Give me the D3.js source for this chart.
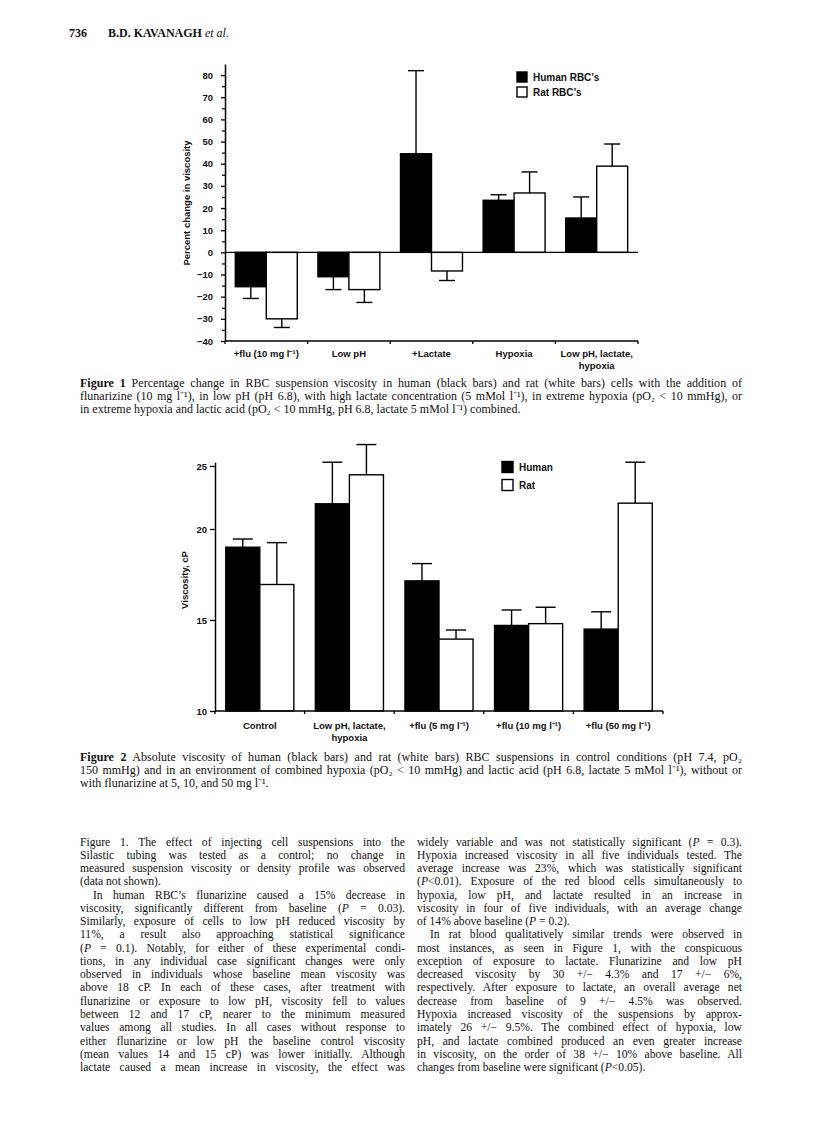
<!DOCTYPE html>
<html><head><meta charset="utf-8">
<script src="https://cdn.jsdelivr.net/npm/d3@7"></script>
<style>body{margin:0;background:#fff}</style>
</head><body>
<svg id="page" width="816" height="1137"></svg>
<script>
// ---------- Figure 1 data ----------
const fig1Categories = ["+flu (10 mg l\u207B\u00B9)", "Low pH", "+Lactate", "Hypoxia", "Low pH, lactate,\nhypoxia"];
const fig1Human    = [-15.5, -11.0, 44.5, 23.5, 15.5];
const fig1HumanErr = [-20.8, -16.8, 82.0, 26.0, 25.0];
const fig1Rat      = [-30.0, -16.8, -8.4, 26.8, 38.9];
const fig1RatErr   = [-33.9, -22.6, -12.7, 36.3, 48.9];
const fig1Ticks    = [-40, -30, -20, -10, 0, 10, 20, 30, 40, 50, 60, 70, 80];
const fig1Minor    = [-35, -25, -15, -5, 5, 15, 25, 35, 45, 55, 65, 75];
const fig1Legend   = ["Human RBC\u2019s", "Rat RBC\u2019s"];

// ---------- Figure 2 data ----------
const fig2Categories = ["Control", "Low pH, lactate,\nhypoxia", "+flu (5 mg l\u207B\u00B9)", "+flu (10 mg l\u207B\u00B9)", "+flu (50 mg l\u207B\u00B9)"];
const fig2Human    = [19.0, 22.0, 17.15, 14.7, 14.5];
const fig2HumanErr = [19.45, 25.3, 18.1, 15.55, 15.45];
const fig2Rat      = [16.95, 24.3, 13.95, 14.8, 22.05];
const fig2RatErr   = [19.25, 26.7, 14.45, 15.7, 25.3];
const fig2Ticks    = [10, 15, 20, 25];
const fig2Legend   = ["Human", "Rat"];

// ---------- Text ----------
const headerPage = "736";
const headerAuthor = "B.D. KAVANAGH ";
const caption1 = [
  "**Figure 1**  Percentage change in RBC suspension viscosity in human (black bars) and rat (white bars) cells with the addition of",
  "flunarizine (10 mg l\u207B\u00B9), in low pH (pH 6.8), with high lactate concentration (5 mMol l\u207B\u00B9), in extreme hypoxia (pO\u2082 < 10 mmHg), or",
  "in extreme hypoxia and lactic acid (pO\u2082 < 10 mmHg, pH 6.8, lactate 5 mMol l\u207B\u00B9) combined."
];
const caption2 = [
  "**Figure 2**  Absolute viscosity of human (black bars) and rat (white bars) RBC suspensions in control conditions (pH 7.4, pO\u2082",
  "150 mmHg) and in an environment of combined hypoxia (pO\u2082 < 10 mmHg) and lactic acid (pH 6.8, lactate 5 mMol l\u207B\u00B9), without or",
  "with flunarizine at 5, 10, and 50 mg l\u207B\u00B9."
];
const bodyLeft = [
  ["Figure 1. The effect of injecting cell suspensions into the", 1, 0],
  ["Silastic tubing was tested as a control; no change in", 1, 0],
  ["measured suspension viscosity or density profile was observed", 1, 0],
  ["(data not shown).", 0, 0],
  ["In human RBC\u2019s flunarizine caused a 15% decrease in", 1, 1],
  ["viscosity, significantly different from baseline (*P* = 0.03).", 1, 0],
  ["Similarly, exposure of cells to low pH reduced viscosity by", 1, 0],
  ["11%, a result also approaching statistical significance", 1, 0],
  ["(*P* = 0.1). Notably, for either of these experimental condi-", 1, 0],
  ["tions, in any individual case significant changes were only", 1, 0],
  ["observed in individuals whose baseline mean viscosity was", 1, 0],
  ["above 18 cP. In each of these cases, after treatment with", 1, 0],
  ["flunarizine or exposure to low pH, viscosity fell to values", 1, 0],
  ["between 12 and 17 cP, nearer to the minimum measured", 1, 0],
  ["values among all studies. In all cases without response to", 1, 0],
  ["either flunarizine or low pH the baseline control viscosity", 1, 0],
  ["(mean values 14 and 15 cP) was lower initially. Although", 1, 0],
  ["lactate caused a mean increase in viscosity, the effect was", 1, 0]
];
const bodyRight = [
  ["widely variable and was not statistically significant (*P* = 0.3).", 1, 0],
  ["Hypoxia increased viscosity in all five individuals tested. The", 1, 0],
  ["average increase was 23%, which was statistically significant", 1, 0],
  ["(*P*<0.01). Exposure of the red blood cells simultaneously to", 1, 0],
  ["hypoxia, low pH, and lactate resulted in an increase in", 1, 0],
  ["viscosity in four of five individuals, with an average change", 1, 0],
  ["of 14% above baseline (*P* = 0.2).", 0, 0],
  ["In rat blood qualitatively similar trends were observed in", 1, 1],
  ["most instances, as seen in Figure 1, with the conspicuous", 1, 0],
  ["exception of exposure to lactate. Flunarizine and low pH", 1, 0],
  ["decreased viscosity by 30 +/\u2212 4.3% and 17 +/\u2212 6%,", 1, 0],
  ["respectively. After exposure to lactate, an overall average net", 1, 0],
  ["decrease from baseline of 9 +/\u2212 4.5% was observed.", 1, 0],
  ["Hypoxia increased viscosity of the suspensions by approx-", 1, 0],
  ["imately 26 +/\u2212 9.5%. The combined effect of hypoxia, low", 1, 0],
  ["pH, and lactate combined produced an even greater increase", 1, 0],
  ["in viscosity, on the order of 38 +/\u2212 10% above baseline. All", 1, 0],
  ["changes from baseline were significant (*P*<0.05).", 0, 0]
];

const SANS = "'Liberation Sans', Arial, Helvetica, sans-serif";
const SERIF = "'Liberation Serif', 'Times New Roman', serif";

const svg = d3.select("#page");
svg.append("rect").attr("width", 816).attr("height", 1137).attr("fill", "#fff");

function rich(textSel, str) {
  const parts = str.split(/(\*\*[^*]+\*\*|\*[^*]+\*)/).filter(s => s.length);
  parts.forEach(p => {
    const t = textSel.append("tspan");
    if (p.startsWith("**")) t.attr("font-weight", "bold").text(p.slice(2, -2));
    else if (p.startsWith("*")) t.attr("font-style", "italic").text(p.slice(1, -1));
    else t.text(p);
  });
}

function textBlock(lines, x0, width, y0, lh, size, indent) {
  const g = svg.append("g").attr("font-family", SERIF).attr("font-size", size).attr("fill", "#111");
  lines.forEach((ln, i) => {
    const [str, just, ind] = Array.isArray(ln) ? ln : [ln, i < lines.length - 1 ? 1 : 0, 0];
    const x = x0 + (ind ? indent : 0);
    const t = g.append("text").attr("x", x).attr("y", y0 + i * lh);
    rich(t, str);
    if (just) {
      const target = width - (ind ? indent : 0);
      const natural = t.node().getComputedTextLength();
      const spaces = (str.replace(/\*/g, "").match(/ /g) || []).length;
      if (spaces > 0) {
        const ws = (target - natural) / spaces;
        t.attr("word-spacing", ws);
        const after = t.node().getComputedTextLength();
        if (Math.abs(after - target) > 1) t.attr("textLength", target).attr("lengthAdjust", "spacing");
      }
    }
  });
}

// header
const hdr = svg.append("g").attr("font-family", SERIF).attr("font-size", 12).attr("fill", "#111");
hdr.append("text").attr("x", 69).attr("y", 37).attr("font-weight", "bold").text(headerPage);
const ht = hdr.append("text").attr("x", 108).attr("y", 37);
ht.append("tspan").attr("font-weight", "bold").text(headerAuthor);
ht.append("tspan").attr("font-style", "italic").text("et al.");

function drawChart(o) {
  const g = svg.append("g").attr("font-family", SANS).attr("font-weight", "bold").attr("fill", "#111");
  const x = d3.scaleBand().domain(o.cats).range(o.xRange).padding(0);
  const y = o.y;
  const bw = x.bandwidth() * o.barFrac;
  const base = y(o.baseVal);
  const series = [
    {vals: o.human, errs: o.humanErr, fill: "#000", off: -bw},
    {vals: o.rat, errs: o.ratErr, fill: "#fff", off: 0}
  ];
  series.forEach(s => {
    o.cats.forEach((c, i) => {
      const cx = x(c) + x.bandwidth() / 2 + s.off + bw / 2;
      g.append("line").attr("x1", cx).attr("x2", cx).attr("y1", y(s.vals[i])).attr("y2", y(s.errs[i]))
        .attr("stroke", "#000").attr("stroke-width", 1.4);
      g.append("line").attr("x1", cx - o.capW / 2).attr("x2", cx + o.capW / 2).attr("y1", y(s.errs[i])).attr("y2", y(s.errs[i]))
        .attr("stroke", "#000").attr("stroke-width", 1.4);
    });
  });
  series.forEach(s => {
    o.cats.forEach((c, i) => {
      const bx = x(c) + x.bandwidth() / 2 + s.off;
      const yv = y(s.vals[i]);
      g.append("rect").attr("x", bx).attr("width", bw)
        .attr("y", Math.min(yv, base)).attr("height", Math.abs(base - yv))
        .attr("fill", s.fill).attr("stroke", "#000").attr("stroke-width", 1.4);
    });
  });
  if (o.zeroLine) {
    g.append("line").attr("x1", o.xRange[0]).attr("x2", o.xRange[1]).attr("y1", y(0)).attr("y2", y(0))
      .attr("stroke", "#000").attr("stroke-width", 1.4);
  }
  const yb = y(o.yDomainMin);
  g.append("line").attr("x1", o.xRange[0]).attr("x2", o.xRange[1]).attr("y1", yb).attr("y2", yb)
    .attr("stroke", "#000").attr("stroke-width", 1.5);
  const bounds = o.cats.map(c => x(c)).concat([o.xRange[1]]);
  bounds.forEach(bx => g.append("line").attr("x1", bx).attr("x2", bx).attr("y1", yb).attr("y2", yb + 3)
    .attr("stroke", "#000").attr("stroke-width", 1.3));
  o.cats.forEach(c => {
    const t = g.append("text").attr("x", x(c) + x.bandwidth() / 2).attr("y", o.labelY)
      .attr("text-anchor", "middle").attr("font-size", o.labelSize);
    c.split("\n").forEach((ln, k) => t.append("tspan").attr("x", x(c) + x.bandwidth() / 2).attr("dy", k ? 12 : 0).text(ln));
  });
  const ax = g.append("g").attr("transform", `translate(${o.xRange[0]},0)`)
    .call(d3.axisLeft(y).tickValues(o.yTicks).tickSize(o.tickSize).tickSizeOuter(0).tickPadding(o.tickPad)
      .tickFormat(d => d < 0 ? "\u2212" + Math.abs(d) : d));
  ax.selectAll("text").attr("font-family", SANS).attr("font-weight", "bold").attr("font-size", o.tickFont).attr("fill", "#111");
  ax.selectAll("line").attr("stroke-width", 1.3);
  ax.select(".domain").attr("stroke-width", 1.5);
  if (o.minor) {
    const mx = g.append("g").attr("transform", `translate(${o.xRange[0]},0)`)
      .call(d3.axisLeft(y).tickValues(o.minor).tickSize(3).tickSizeOuter(0).tickFormat(""));
    mx.select(".domain").remove();
    mx.selectAll("line").attr("stroke-width", 1.2);
  }
  g.append("text").attr("transform", `translate(${o.titleX},${o.titleY}) rotate(-90)`)
    .attr("text-anchor", "middle").attr("font-size", o.titleSize).text(o.title);
  o.legend.forEach((lab, i) => {
    const ly = o.legY + i * o.legGap;
    g.append("rect").attr("x", o.legX).attr("y", ly - o.legSq / 2).attr("width", o.legSq).attr("height", o.legSq)
      .attr("fill", i === 0 ? "#000" : "#fff").attr("stroke", "#000").attr("stroke-width", 1.4);
    g.append("text").attr("x", o.legX + o.legSq + 6).attr("y", ly + 3.5).attr("font-size", 10).text(lab);
  });
}

// Figure 1
drawChart({
  cats: fig1Categories, human: fig1Human, humanErr: fig1HumanErr, rat: fig1Rat, ratErr: fig1RatErr,
  y: d3.scaleLinear().domain([-40, 85]).range([341, 64]),
  yDomainMin: -40, baseVal: 0, zeroLine: true,
  xRange: [225, 638], barFrac: 0.375, capW: 16,
  yTicks: fig1Ticks, minor: fig1Minor, tickSize: 4, tickPad: 8, tickFont: 9.5,
  labelY: 357, labelSize: 9.5,
  title: "Percent change in viscosity", titleX: 190, titleY: 203, titleSize: 9.5,
  legend: fig1Legend, legX: 517, legY: 77, legGap: 15, legSq: 10
});

// Figure 2
drawChart({
  cats: fig2Categories, human: fig2Human, humanErr: fig2HumanErr, rat: fig2Rat, ratErr: fig2RatErr,
  y: d3.scaleLinear().domain([10, 20, 25.3]).range([711, 529, 462.2]),
  yDomainMin: 10, baseVal: 10, zeroLine: false,
  xRange: [215, 663], barFrac: 0.38, capW: 20,
  yTicks: fig2Ticks, minor: null, tickSize: 5, tickPad: 3, tickFont: 9.5,
  labelY: 729, labelSize: 9.5,
  title: "Viscosity, cP", titleX: 188, titleY: 580, titleSize: 9.5,
  legend: fig2Legend, legX: 502, legY: 467, legGap: 18, legSq: 11
});

// captions
textBlock(caption1, 80, 662, 387, 13.2, 12, 0);
textBlock(caption2, 80, 662, 761, 13.2, 12, 0);
// body
textBlock(bodyLeft, 80, 325, 845.5, 13.27, 11.6, 13);
textBlock(bodyRight, 417, 325, 845.5, 13.27, 11.6, 13);
</script>
</body></html>
